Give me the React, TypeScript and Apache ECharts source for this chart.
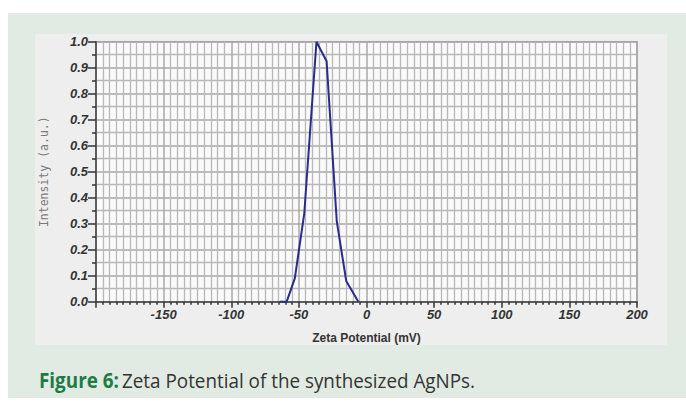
import React, { useEffect, useRef } from "react";
import * as echarts from "echarts";

const potentialMv = [-64, -59, -53, -46, -37, -29.5, -22, -15, -6];
const intensity = [0, 0, 0.09, 0.34, 1.0, 0.925, 0.31, 0.08, 0];
const xTickValues = [-150, -100, -50, 0, 50, 100, 150, 200];
const yTickLabels = ["0.0", "0.1", "0.2", "0.3", "0.4", "0.5", "0.6", "0.7", "0.8", "0.9", "1.0"];

export default function App() {
  const ref = useRef<HTMLDivElement>(null);
  useEffect(() => {
    document.body.style.margin = "0";
    const chart = echarts.init(ref.current!, null, { renderer: "svg" });
    const labelFont = {
      fontFamily: "Liberation Sans, Arial, sans-serif",
      fontWeight: "bold" as const,
      fontStyle: "italic" as const,
      fontSize: 13,
      color: "#333",
    };
    chart.setOption({
      animation: false,
      backgroundColor: "#ffffff",
      graphic: [
        { type: "rect", shape: { x: 8, y: 13, width: 678, height: 385 }, style: { fill: "#e1ebe4" }, z: -10 },
        { type: "rect", shape: { x: 35, y: 34, width: 632, height: 311 }, style: { fill: "#eeeeee" }, z: -9 },
        {
          type: "text",
          x: 39,
          y: 380,
          scaleX: 0.92,
          style: {
            text: "{a|Figure 6:} {b|Zeta Potential of the synthesized AgNPs.}",
            verticalAlign: "middle",
            rich: {
              a: { fontFamily: "Open Sans, sans-serif", fontWeight: "bold", fontSize: 20.5, fill: "#1e7b45" },
              b: { fontFamily: "Open Sans, sans-serif", fontSize: 20.5, fill: "#333333" },
            },
          },
        },
      ],
      grid: {
        left: 96,
        right: 49,
        top: 41.7,
        bottom: 105.3,
        show: true,
        backgroundColor: "#fafafa",
        borderColor: "#9a9a9a",
        borderWidth: 1.5,
      },
      xAxis: {
        type: "value",
        min: -200,
        max: 200,
        interval: 50,
        name: "Zeta Potential (mV)",
        nameLocation: "middle",
        nameGap: 30,
        nameTextStyle: { fontFamily: "Liberation Sans, Arial, sans-serif", fontWeight: "bold", fontSize: 12, color: "#333" },
        axisLine: { show: true, onZero: false, lineStyle: { color: "#444", width: 1.5 } },
        axisTick: { show: true, length: 6, lineStyle: { color: "#333", width: 1.5 } },
        minorTick: { show: true, splitNumber: 10, length: 3, lineStyle: { color: "#333", width: 1.5 } },
        axisLabel: {
          ...labelFont,
          margin: 6,
          formatter: (v: number) => (xTickValues.indexOf(v) >= 0 ? String(v) : ""),
        },
        splitLine: { show: true, lineStyle: { color: "#a9a9a9", width: 1.5 } },
        minorSplitLine: { show: true, lineStyle: { color: "#b8b8b8", width: 1.3 } },
      },
      yAxis: {
        type: "value",
        min: 0,
        max: 1,
        interval: 0.1,
        name: "Intensity (a.u.)",
        nameLocation: "middle",
        nameGap: 46,
        nameTextStyle: { fontFamily: "DejaVu Sans Mono, monospace", fontSize: 11.5, color: "#7a7a7a" },
        axisLine: { show: true, onZero: false, lineStyle: { color: "#444", width: 1.5 } },
        axisTick: { show: true, length: 8, lineStyle: { color: "#333", width: 1.5 } },
        minorTick: { show: true, splitNumber: 2, length: 4, lineStyle: { color: "#333", width: 1.5 } },
        axisLabel: {
          ...labelFont,
          margin: 8,
          formatter: (v: number) => yTickLabels[Math.round(v * 10)] ?? "",
        },
        splitLine: { show: true, lineStyle: { color: "#a9a9a9", width: 1.5 } },
        minorSplitLine: { show: true, lineStyle: { color: "#b8b8b8", width: 1.3 } },
      },
      series: [
        {
          type: "line",
          data: potentialMv.map((x, i) => [x, intensity[i]]),
          showSymbol: false,
          symbol: "none",
          lineStyle: { color: "#2b2b8c", width: 2 },
          clip: false,
        },
      ],
    });
    return () => chart.dispose();
  }, []);
  return <div ref={ref} style={{ position: "fixed", left: 0, top: 0, width: 686, height: 407 }} />;
}
